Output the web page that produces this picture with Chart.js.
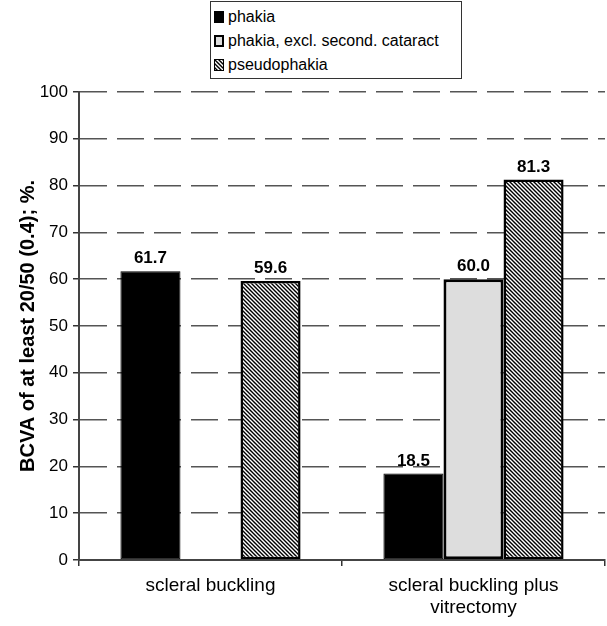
<!DOCTYPE html>
<html>
<head>
<meta charset="UTF-8">
<title>BCVA chart</title>
<script src="https://cdn.jsdelivr.net/npm/chart.js"></script>
<style>
  html, body { margin: 0; padding: 0; background: #fff; }
  #wrap { position: relative; width: 607px; height: 626px; }
  #legend {
    position: absolute; left: 210px; top: 1px; width: 252px; height: 78px;
    border: 1.5px solid #333; background: #fff; box-sizing: border-box;
    font-family: "Liberation Sans", Arial, sans-serif; font-size: 16px; color: #000;
    padding-top: 3px;
  }
  .item { height: 24px; line-height: 24px; white-space: nowrap; display: flex; align-items: center; }
  .sw { width: 10px; height: 12px; margin: 0 4px 0 3px; box-sizing: border-box; border: 1.5px solid #000; }
</style>
</head>
<body>
<div id="wrap">
  <canvas id="chart" width="607" height="626"></canvas>
  <div id="legend"></div>
</div>
<script>
// dados
const categories = ['scleral buckling', ['scleral buckling plus', 'vitrectomy']];
const seriesNames = ['phakia', 'phakia, excl. second. cataract', 'pseudophakia'];
const phakia = [61.7, 18.5];
const phakiaExcl = [null, 60.0];
const pseudophakia = [59.6, 81.3];
const yTitle = 'BCVA of at least 20/50 (0.4); %.';

const FONT = '"Liberation Sans", Arial, sans-serif';

// padrão listrado (pseudophakia)
function makeHatch() {
    const c = document.createElement('canvas');
    c.width = 4; c.height = 4;
    const g = c.getContext('2d');
    g.fillStyle = '#fff';
    g.fillRect(0, 0, 4, 4);
    g.strokeStyle = '#000';
    g.lineWidth = 1.4;
    g.beginPath();
    g.moveTo(-1, -1); g.lineTo(5, 5);
    g.moveTo(-1, 3); g.lineTo(1, 5);
    g.moveTo(3, -1); g.lineTo(5, 1);
    g.stroke();
    return c;
}
const hatchCanvas = makeHatch();
const ctx = document.getElementById('chart').getContext('2d');
const hatch = ctx.createPattern(hatchCanvas, 'repeat');

const fills = ['#000000', '#dddddd', hatch];
const borders = [1, 3, 2.5];
const values = [phakia, phakiaExcl, pseudophakia];

// rótulos de valor acima das barras
const valueLabels = {
    id: 'valueLabels',
    afterDatasetsDraw(chart) {
        const c = chart.ctx;
        c.save();
        c.font = 'bold 17px ' + FONT;
        c.fillStyle = '#000';
        c.textAlign = 'center';
        c.textBaseline = 'bottom';
        chart.data.datasets.forEach((ds, i) => {
            chart.getDatasetMeta(i).data.forEach((bar, j) => {
                const v = ds.data[j];
                if (v === null || v === undefined) return;
                c.fillText(v.toFixed(1), bar.x, bar.y - 4);
            });
        });
        c.restore();
    }
};

const chart = new Chart(ctx, {
    type: 'bar',
    data: {
        labels: categories,
        datasets: seriesNames.map((name, i) => ({
            label: name,
            data: values[i],
            backgroundColor: fills[i],
            borderColor: '#000',
            borderWidth: borders[i],
            borderSkipped: false,
            categoryPercentage: 0.685,
            barPercentage: 1.0
        }))
    },
    options: {
        responsive: false,
        animation: false,
        layout: { padding: { left: 0, right: 2, top: 92, bottom: 0 } },
        plugins: {
            legend: { display: false },
            tooltip: { enabled: false }
        },
        scales: {
            x: {
                offset: true,
                grid: { display: true, drawOnChartArea: false, drawTicks: true, tickLength: 6, color: '#333', lineWidth: 1.5 },
                border: { display: true, color: '#444', width: 2 },
                ticks: { color: '#000', font: { family: FONT, size: 19 }, padding: 8, maxRotation: 0 },
                afterFit(scale) { scale.height = 66; }
            },
            y: {
                min: 0, max: 100,
                ticks: { stepSize: 10, color: '#000', font: { family: FONT, size: 17 }, padding: 5 },
                grid: { color: '#555', lineWidth: 1.5, tickLength: 6, tickBorderDash: [], tickColor: '#333' },
                border: { display: true, color: '#444', width: 2, dash: [27, 10] },
                title: { display: true, text: yTitle, color: '#000', font: { family: FONT, size: 20, weight: 'bold' }, padding: { top: 16, bottom: 0 } },
                afterFit(scale) { scale.width = 79; }
            }
        }
    },
    plugins: [valueLabels]
});

// legenda em HTML
const leg = document.getElementById('legend');
seriesNames.forEach((name, i) => {
    const row = document.createElement('div');
    row.className = 'item';
    const sw = document.createElement('span');
    sw.className = 'sw';
    if (i === 2) sw.style.background = 'url(' + hatchCanvas.toDataURL() + ')';
    else sw.style.background = fills[i];
    if (i === 1) sw.style.borderWidth = '2.5px';
    const t = document.createElement('span');
    t.textContent = name;
    row.appendChild(sw);
    row.appendChild(t);
    leg.appendChild(row);
});
</script>
</body>
</html>
